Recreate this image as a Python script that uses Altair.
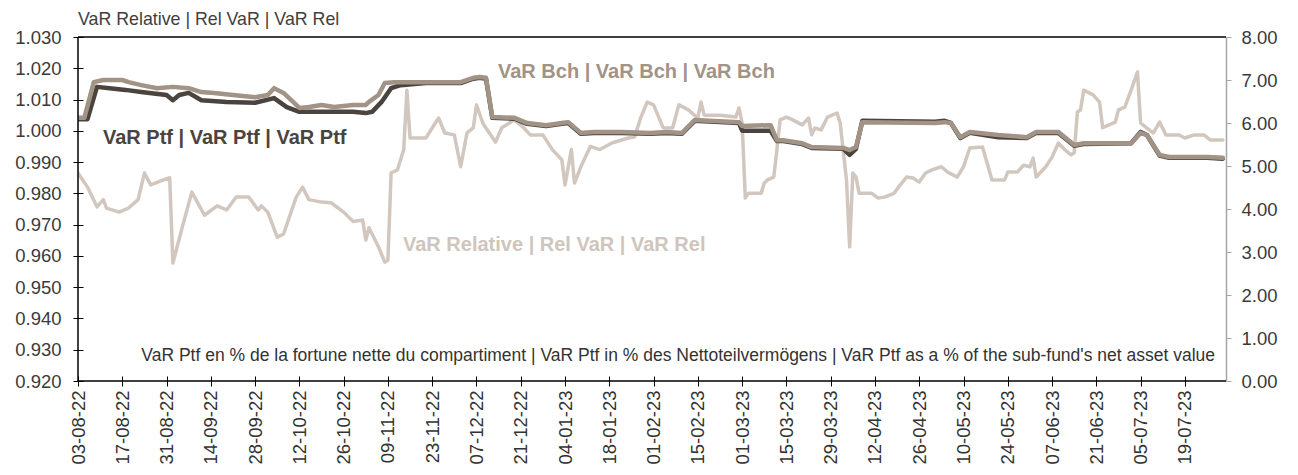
import altair as alt
import pandas as pd

FONT = "Liberation Sans"
W, H = 1148, 344

# VaR Relative (left axis)
rel_points = [
    ("2022-08-03", 0.9865), ("2022-08-06", 0.982), ("2022-08-09", 0.9757), ("2022-08-11", 0.978),
    ("2022-08-12", 0.9753), ("2022-08-16", 0.974), ("2022-08-19", 0.9753), ("2022-08-22", 0.978),
    ("2022-08-24", 0.9865), ("2022-08-26", 0.9827), ("2022-08-30", 0.9843), ("2022-09-01", 0.985),
    ("2022-09-02", 0.9577), ("2022-09-05", 0.9693), ("2022-09-08", 0.9804), ("2022-09-12", 0.973),
    ("2022-09-16", 0.976), ("2022-09-19", 0.9747), ("2022-09-22", 0.9788), ("2022-09-26", 0.9788),
    ("2022-09-29", 0.9747), ("2022-09-30", 0.976), ("2022-10-02", 0.974), ("2022-10-05", 0.966),
    ("2022-10-07", 0.967), ("2022-10-11", 0.9788), ("2022-10-13", 0.982), ("2022-10-15", 0.978),
    ("2022-10-19", 0.9772), ("2022-10-22", 0.977), ("2022-10-26", 0.974), ("2022-10-29", 0.971),
    ("2022-11-01", 0.9715), ("2022-11-02", 0.9651), ("2022-11-03", 0.969), ("2022-11-06", 0.9629),
    ("2022-11-08", 0.958), ("2022-11-09", 0.9587), ("2022-11-10", 0.9865), ("2022-11-12", 0.9875),
    ("2022-11-14", 0.994), ("2022-11-15", 1.013), ("2022-11-16", 0.9977), ("2022-11-21", 0.9977),
    ("2022-11-25", 1.0041), ("2022-11-27", 0.9993), ("2022-11-30", 0.9987), ("2022-12-02", 0.9885),
    ("2022-12-04", 0.9993), ("2022-12-06", 1.001), ("2022-12-07", 1.0083), ("2022-12-09", 1.0025),
    ("2022-12-10", 1.0009), ("2022-12-13", 0.9964), ("2022-12-15", 1.001), ("2022-12-19", 1.0035),
    ("2022-12-22", 1.0009), ("2022-12-24", 0.9987), ("2022-12-28", 0.9987), ("2022-12-31", 0.994),
    ("2023-01-03", 0.9907), ("2023-01-04", 0.9827), ("2023-01-06", 0.994), ("2023-01-07", 0.9833),
    ("2023-01-09", 0.9885), ("2023-01-12", 0.995), ("2023-01-15", 0.994), ("2023-01-19", 0.9962),
    ("2023-01-24", 0.9977), ("2023-01-26", 0.998), ("2023-01-28", 1.0044), ("2023-01-30", 1.0092),
    ("2023-02-01", 1.0083), ("2023-02-04", 1.001), ("2023-02-07", 1.0009), ("2023-02-09", 1.0083),
    ("2023-02-12", 1.0067), ("2023-02-15", 1.0041), ("2023-02-16", 1.0092), ("2023-02-17", 1.005),
    ("2023-02-22", 1.005), ("2023-02-27", 1.0044), ("2023-02-28", 1.0073), ("2023-03-01", 1.0025),
    ("2023-03-02", 0.9785), ("2023-03-03", 0.980), ("2023-03-07", 0.980), ("2023-03-08", 0.9833),
    ("2023-03-09", 0.9843), ("2023-03-11", 0.9852), ("2023-03-12", 0.994), ("2023-03-13", 1.0035),
    ("2023-03-15", 1.0044), ("2023-03-17", 1.0035), ("2023-03-20", 1.0019), ("2023-03-22", 1.0041),
    ("2023-03-23", 0.9987), ("2023-03-24", 1.0009), ("2023-03-26", 1.0003), ("2023-03-28", 1.0044),
    ("2023-03-31", 1.0057), ("2023-04-01", 1.0025), ("2023-04-03", 0.9843), ("2023-04-04", 0.9629),
    ("2023-04-05", 0.9865), ("2023-04-06", 0.9852), ("2023-04-07", 0.980), ("2023-04-11", 0.980),
    ("2023-04-13", 0.9785), ("2023-04-15", 0.9788), ("2023-04-18", 0.980), ("2023-04-20", 0.9827),
    ("2023-04-22", 0.9852), ("2023-04-24", 0.9849), ("2023-04-26", 0.9836), ("2023-04-28", 0.9865),
    ("2023-04-30", 0.9875), ("2023-05-03", 0.9885), ("2023-05-05", 0.9868), ("2023-05-08", 0.9852),
    ("2023-05-10", 0.9885), ("2023-05-12", 0.9945), ("2023-05-16", 0.9948), ("2023-05-19", 0.9843),
    ("2023-05-23", 0.9843), ("2023-05-24", 0.9868), ("2023-05-27", 0.9868), ("2023-05-29", 0.989),
    ("2023-05-31", 0.9885), ("2023-06-01", 0.9913), ("2023-06-02", 0.9852), ("2023-06-05", 0.9885),
    ("2023-06-07", 0.9916), ("2023-06-09", 0.9961), ("2023-06-11", 0.994), ("2023-06-13", 0.9923),
    ("2023-06-14", 0.993), ("2023-06-15", 1.006), ("2023-06-16", 1.0067), ("2023-06-17", 1.013),
    ("2023-06-20", 1.0115), ("2023-06-22", 1.0092), ("2023-06-23", 1.001), ("2023-06-27", 1.0028),
    ("2023-06-28", 1.0067), ("2023-06-30", 1.0076), ("2023-07-02", 1.013), ("2023-07-04", 1.0188),
    ("2023-07-05", 1.0025), ("2023-07-07", 1.0009), ("2023-07-09", 0.9993), ("2023-07-11", 1.0028),
    ("2023-07-13", 0.9987), ("2023-07-17", 0.9987), ("2023-07-19", 0.9977), ("2023-07-22", 0.9987),
    ("2023-07-25", 0.9987), ("2023-07-27", 0.9971), ("2023-07-31", 0.9971),
]

# VaR Bch (right axis)
bch_points = [
    ("2022-08-03", 6.12), ("2022-08-05", 6.12), ("2022-08-08", 6.95), ("2022-08-11", 7.00),
    ("2022-08-17", 7.00), ("2022-08-19", 6.95), ("2022-08-23", 6.88), ("2022-08-28", 6.81),
    ("2022-09-02", 6.84), ("2022-09-07", 6.81), ("2022-09-11", 6.72), ("2022-09-15", 6.70),
    ("2022-09-21", 6.65), ("2022-09-28", 6.60), ("2022-10-02", 6.65), ("2022-10-04", 6.81),
    ("2022-10-07", 6.70), ("2022-10-12", 6.35), ("2022-10-15", 6.37), ("2022-10-19", 6.42),
    ("2022-10-23", 6.37), ("2022-10-29", 6.42), ("2022-11-02", 6.42), ("2022-11-03", 6.49),
    ("2022-11-06", 6.65), ("2022-11-08", 6.93), ("2022-11-11", 6.95), ("2022-11-21", 6.95),
    ("2022-12-02", 6.95), ("2022-12-06", 7.05), ("2022-12-08", 7.07), ("2022-12-10", 7.05),
    ("2022-12-12", 6.14), ("2022-12-19", 6.12), ("2022-12-23", 6.00), ("2022-12-29", 5.95),
    ("2023-01-03", 6.00), ("2023-01-05", 6.02), ("2023-01-09", 5.77), ("2023-01-13", 5.79),
    ("2023-01-22", 5.79), ("2023-01-31", 5.77), ("2023-02-05", 5.79), ("2023-02-10", 5.77),
    ("2023-02-14", 6.07), ("2023-02-28", 6.02), ("2023-03-01", 5.93), ("2023-03-10", 5.95),
    ("2023-03-12", 5.60), ("2023-03-14", 5.60), ("2023-03-20", 5.53), ("2023-03-23", 5.44),
    ("2023-04-02", 5.42), ("2023-04-04", 5.37), ("2023-04-06", 5.44), ("2023-04-08", 6.02),
    ("2023-05-01", 6.00), ("2023-05-04", 6.02), ("2023-05-06", 6.00), ("2023-05-09", 5.67),
    ("2023-05-12", 5.79), ("2023-05-21", 5.72), ("2023-05-30", 5.67), ("2023-06-02", 5.79),
    ("2023-06-09", 5.79), ("2023-06-14", 5.49), ("2023-06-17", 5.53), ("2023-07-02", 5.53),
    ("2023-07-05", 5.77), ("2023-07-07", 5.72), ("2023-07-11", 5.26), ("2023-07-14", 5.21),
    ("2023-07-26", 5.21), ("2023-07-31", 5.19),
]

# VaR Ptf (right axis)
ptf_points = [
    ("2022-08-03", 6.09), ("2022-08-06", 6.09), ("2022-08-09", 6.84), ("2022-08-13", 6.81),
    ("2022-08-18", 6.77), ("2022-08-23", 6.72), ("2022-08-31", 6.65), ("2022-09-02", 6.53),
    ("2022-09-04", 6.65), ("2022-09-07", 6.70), ("2022-09-11", 6.53), ("2022-09-19", 6.49),
    ("2022-09-28", 6.47), ("2022-10-04", 6.58), ("2022-10-08", 6.37), ("2022-10-12", 6.26),
    ("2022-10-21", 6.26), ("2022-10-29", 6.26), ("2022-11-02", 6.23), ("2022-11-04", 6.26),
    ("2022-11-07", 6.49), ("2022-11-10", 6.81), ("2022-11-13", 6.88), ("2022-11-21", 6.93),
    ("2022-12-02", 6.93), ("2022-12-06", 7.03), ("2022-12-08", 7.05), ("2022-12-10", 7.03),
    ("2022-12-12", 6.12), ("2022-12-19", 6.10), ("2022-12-23", 5.98), ("2022-12-29", 5.93),
    ("2023-01-03", 5.98), ("2023-01-05", 6.00), ("2023-01-09", 5.75), ("2023-01-13", 5.77),
    ("2023-01-22", 5.77), ("2023-01-31", 5.75), ("2023-02-05", 5.77), ("2023-02-10", 5.75),
    ("2023-02-14", 6.05), ("2023-02-28", 6.00), ("2023-03-01", 5.82), ("2023-03-10", 5.82),
    ("2023-03-12", 5.58), ("2023-03-14", 5.58), ("2023-03-20", 5.51), ("2023-03-23", 5.42),
    ("2023-04-02", 5.40), ("2023-04-04", 5.26), ("2023-04-06", 5.40), ("2023-04-08", 6.05),
    ("2023-05-01", 6.03), ("2023-05-04", 6.05), ("2023-05-06", 6.00), ("2023-05-09", 5.65),
    ("2023-05-12", 5.77), ("2023-05-21", 5.67), ("2023-05-30", 5.65), ("2023-06-02", 5.77),
    ("2023-06-09", 5.77), ("2023-06-14", 5.47), ("2023-06-17", 5.51), ("2023-07-02", 5.53),
    ("2023-07-05", 5.79), ("2023-07-07", 5.72), ("2023-07-11", 5.24), ("2023-07-14", 5.19),
    ("2023-07-26", 5.19), ("2023-07-31", 5.17),
]

x_ticks = ["2022-08-03", "2022-08-17", "2022-08-31", "2022-09-14", "2022-09-28", "2022-10-12",
           "2022-10-26", "2022-11-09", "2022-11-23", "2022-12-07", "2022-12-21", "2023-01-04",
           "2023-01-18", "2023-02-01", "2023-02-15", "2023-03-01", "2023-03-15", "2023-03-29",
           "2023-04-12", "2023-04-26", "2023-05-10", "2023-05-24", "2023-06-07", "2023-06-21",
           "2023-07-05", "2023-07-19"]
x_range = ["2022-08-03", "2023-08-01"]
left_ticks = [0.92, 0.93, 0.94, 0.95, 0.96, 0.97, 0.98, 0.99, 1.00, 1.01, 1.02, 1.03]
right_ticks = [0, 1, 2, 3, 4, 5, 6, 7, 8]

title_left = "VaR Relative | Rel VaR | VaR Rel"
lbl_bch = "VaR Bch | VaR Bch | VaR Bch"
lbl_ptf = "VaR Ptf | VaR Ptf | VaR Ptf"
lbl_rel = "VaR Relative | Rel VaR | VaR Rel"
footnote = ("VaR Ptf en % de la fortune nette du compartiment | VaR Ptf in % des "
            "Nettoteilvermögens | VaR Ptf as a % of the sub-fund's net asset value")

C_PTF = "#4b433d"
C_BCH = "#a19386"
C_REL = "#d1c7bf"


def frame(points):
    df = pd.DataFrame(points, columns=["date", "value"])
    df["date"] = pd.to_datetime(df["date"])
    return df


def dt(s):
    y, m, d = (int(p) for p in s.split("-"))
    return alt.DateTime(year=y, month=m, date=d)


x_enc = alt.X(
    "date:T",
    scale=alt.Scale(domain=[dt(s) for s in x_range]),
    axis=alt.Axis(values=[dt(s) for s in x_ticks], format="%d-%m-%y", labelAngle=-90,
                  offset=-5, tickSize=10, domain=False, grid=False, labelPadding=4,
                  labelFontSize=18.5, labelColor="#333333", tickColor="#000000",
                  labelFont=FONT, labelOverlap=False, labelFlush=False, title=None),
)

y_left = alt.Y(
    "value:Q",
    scale=alt.Scale(domain=[0.92, 1.03], nice=False, zero=False),
    axis=alt.Axis(orient="left", values=left_ticks, format=".3f", offset=-5, tickSize=10,
                  domain=False, grid=False, labelPadding=12, labelFontSize=18.5,
                  labelColor="#3a3a3a", tickColor="#000000", labelFont=FONT, title=None),
)

y_right = alt.Y(
    "value:Q",
    scale=alt.Scale(domain=[0, 8], nice=False),
    axis=alt.Axis(orient="right", values=right_ticks, format=".2f", tickSize=5,
                  domain=True, domainColor="#a6a6a6", domainWidth=1.5, tickColor="#a6a6a6",
                  grid=False, labelPadding=10, labelFontSize=18.5, labelColor="#3a3a3a",
                  labelFont=FONT, title=None),
)

line_kw = dict(strokeJoin="round", strokeCap="round", clip=True)

rel_line = alt.Chart(frame(rel_points)).mark_line(color=C_REL, strokeWidth=3.5, **line_kw).encode(
    x=x_enc, y=y_left)
ptf_line = alt.Chart(frame(ptf_points)).mark_line(color=C_PTF, strokeWidth=4.5, **line_kw).encode(
    x=x_enc, y=y_right)
bch_line = alt.Chart(frame(bch_points)).mark_line(color=C_BCH, strokeWidth=4.5, **line_kw).encode(
    x=x_enc, y=y_right)
right_layer = alt.layer(ptf_line, bch_line)

blank = pd.DataFrame({"k": [0]})


def hrule(y, color="#000000"):
    return alt.Chart(blank).mark_rule(color=color, strokeWidth=1.5).encode(
        x=alt.value(0), x2=alt.value(W), y=alt.value(y))


def vrule(x, color="#000000"):
    return alt.Chart(blank).mark_rule(color=color, strokeWidth=1.5).encode(
        x=alt.value(x), y=alt.value(0), y2=alt.value(H))


def label(txt, x, y, size, color, weight="normal", align="left"):
    return alt.Chart(blank).mark_text(
        text=txt, fontSize=size, color=color, fontWeight=weight, align=align,
        baseline="middle", font=FONT).encode(x=alt.value(x), y=alt.value(y))


chart = alt.layer(
    rel_line,
    right_layer,
    hrule(0), hrule(H), vrule(0),
    label(title_left, 0, -17, 17.8, "#404040"),
    label(lbl_bch, 420, 35, 20, C_BCH, "bold"),
    label(lbl_ptf, 25, 101, 20, C_PTF, "bold"),
    label(lbl_rel, 325, 208, 20, "#cfc5bd", "bold"),
    label(footnote, 1137, 319, 17.5, "#333333", align="right"),
).resolve_scale(y="independent").properties(
    width=W, height=H,
    padding={"left": 70, "top": 29, "right": 64, "bottom": 86},
    autosize=alt.AutoSizeParams(type="none"),
    background="white",
).configure_view(stroke=None)

chart.save("out.html", embed_options={"renderer": "svg", "actions": False})
